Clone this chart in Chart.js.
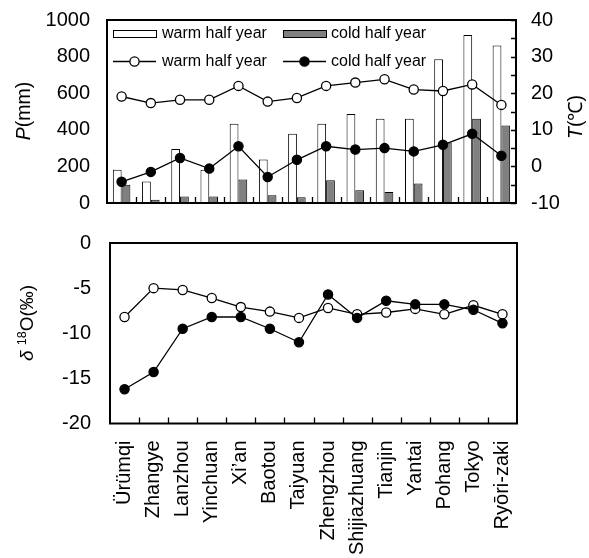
<!DOCTYPE html>
<html>
<head>
<meta charset="utf-8">
<script src="https://cdn.jsdelivr.net/npm/chart.js@4.4.1/dist/chart.umd.min.js"></script>
<style>
  html, body { margin: 0; padding: 0; background: #fff; }
  #wrap { position: relative; width: 589px; height: 558px; overflow: hidden; }
  #wrap canvas { position: absolute; left: 0; }
  #chart-top { top: 0; }
  #chart-bottom { top: 215px; }
</style>
</head>
<body>
<div id="wrap">
  <canvas id="chart-top" width="589" height="215"></canvas>
  <canvas id="chart-bottom" width="589" height="343"></canvas>
</div>
<script>
'use strict';

// ===== DATA =====
const stations = ['Ürümqi', 'Zhangye', 'Lanzhou', 'Yinchuan', 'Xi’an', 'Baotou', 'Taiyuan',
  'Zhengzhou', 'Shijiazhuang', 'Tianjin', 'Yantai', 'Pohang', 'Tokyo', 'Ryōri-zaki'];

// precipitation (mm)
const precipWarm = [182, 118, 295, 182, 433, 238, 378, 433, 487, 460, 460, 786, 918, 860];
const precipCold = [100, 18, 36, 36, 128, 43, 32, 125, 70, 60, 106, 330, 460, 423];

// temperature (°C)
const tempWarm = [19.1, 17.3, 18.2, 18.2, 22.0, 17.7, 18.7, 22.0, 22.9, 23.8, 21.0, 20.6, 22.4, 16.8];
const tempCold = [-4.2, -1.5, 2.3, -0.6, 5.5, -2.9, 1.8, 5.5, 4.6, 5.0, 4.1, 5.9, 8.9, 2.9];

// delta 18O (permil)
const d18Warm = [-8.2, -5.0, -5.2, -6.1, -7.1, -7.6, -8.3, -7.2, -7.9, -7.7, -7.3, -7.9, -6.9, -7.9];
const d18Cold = [-16.2, -14.3, -9.5, -8.2, -8.2, -9.5, -11.0, -5.7, -8.3, -6.4, -6.8, -6.8, -7.4, -8.9];

const pAxisTicks = [0, 1000, 200];   // min, max, step
const tAxisTicks = [-10, 40, 10];
const dAxisTicks = [-20, 0, 5];

const FONT = "'Liberation Sans', Arial, sans-serif";

// ===== HELPERS =====
function drawRotated(ctx, cx, cy, parts) {
  ctx.save();
  ctx.translate(cx, cy);
  ctx.rotate(-Math.PI / 2);
  ctx.textBaseline = 'middle';
  ctx.fillStyle = '#000';
  let w = 0;
  parts.forEach(p => { ctx.font = p.font; w += ctx.measureText(p.text).width; });
  let x = -w / 2;
  parts.forEach(p => {
    ctx.font = p.font;
    ctx.fillText(p.text, x, p.dy || 0);
    x += ctx.measureText(p.text).width;
  });
  ctx.restore();
}

// box round the plot + small inward ticks
function makeFrame(id, rightAxisId) {
  return {
    id: id,
    afterDraw(chart) {
      const ctx = chart.ctx;
      const a = chart.chartArea;
      const xs = chart.scales.x;
      ctx.save();
      ctx.strokeStyle = '#000';
      ctx.lineWidth = 1.3;
      ctx.beginPath();
      for (let i = 1; i < stations.length; i++) {
        const px = Math.round((xs.getPixelForValue(i - 1) + xs.getPixelForValue(i)) / 2) + 0.5;
        ctx.moveTo(px, a.bottom);
        ctx.lineTo(px, a.bottom - 6);
      }
      if (rightAxisId) {
        const s = chart.scales[rightAxisId];
        for (let v = s.min; v <= s.max; v += 5) {
          const py = Math.round(s.getPixelForValue(v)) + 0.5;
          ctx.moveTo(a.right, py);
          ctx.lineTo(a.right - 5, py);
        }
      }
      ctx.stroke();
      ctx.lineWidth = 2;
      ctx.strokeRect(a.left, a.top, a.right - a.left, a.bottom - a.top);
      ctx.restore();
    }
  };
}

// 2x2 legend in the top panel
const legendPlugin = {
  id: 'legendGrid',
  afterDraw(chart) {
    const ctx = chart.ctx;
    const ds = chart.data.datasets;
    const cols = [113, 283];
    const textX = [162, 331];
    ctx.save();
    ctx.font = `16px ${FONT}`;
    ctx.textBaseline = 'middle';
    // row 1: bars
    [ds[2], ds[3]].forEach((d, i) => {
      ctx.fillStyle = d.backgroundColor;
      ctx.fillRect(cols[i], 30.5, 43, 7);
      ctx.strokeStyle = '#000';
      ctx.lineWidth = 1;
      ctx.strokeRect(cols[i] + 0.5, 30.5, 43, 7);
      ctx.fillStyle = '#000';
      ctx.fillText(d.label, textX[i], 34);
    });
    // row 2: lines
    [ds[0], ds[1]].forEach((d, i) => {
      ctx.strokeStyle = '#000';
      ctx.lineWidth = 1.3;
      ctx.beginPath();
      ctx.moveTo(cols[i], 61.5);
      ctx.lineTo(cols[i] + 43, 61.5);
      ctx.stroke();
      ctx.beginPath();
      ctx.arc(cols[i] + 21.5, 61.5, 4.6, 0, Math.PI * 2);
      ctx.fillStyle = d.pointBackgroundColor;
      ctx.fill();
      ctx.stroke();
      ctx.fillStyle = '#000';
      ctx.fillText(d.label, textX[i], 61.5);
    });
    ctx.restore();
  }
};

const titlesTop = {
  id: 'titlesTop',
  afterDraw(chart) {
    const ctx = chart.ctx;
    drawRotated(ctx, 25, 111, [
      { text: 'P', font: `italic 19.5px ${FONT}` },
      { text: '(mm)', font: `19.5px ${FONT}` }
    ]);
    drawRotated(ctx, 577, 117, [
      { text: 'T', font: `italic 19.5px ${FONT}` },
      { text: '(℃)', font: `19.5px ${FONT}` }
    ]);
  }
};

const titlesBottom = {
  id: 'titlesBottom',
  afterDraw(chart) {
    const ctx = chart.ctx;
    drawRotated(ctx, 28, 108, [
      { text: 'δ', font: `italic 19px ${FONT}` },
      { text: ' ', font: `19px ${FONT}` },
      { text: '18', font: `12.5px ${FONT}`, dy: -5 },
      { text: 'O(‰)', font: `19px ${FONT}` }
    ]);
  }
};

const tickFont = { family: FONT, size: 20 };
const noGrid = { display: false, drawTicks: false };
// hidden tick marks: they only push the labels away from the axis
const gapGrid = len => ({ display: false, drawTicks: true, tickLength: len });
const plainNum = v => String(v);

// ===== TOP: precipitation + temperature =====
function initTopChart() {
  const lineStyle = {
    type: 'line', yAxisID: 'yT', borderColor: '#000', borderWidth: 1.3,
    pointRadius: 4.6, pointBorderColor: '#000', pointBorderWidth: 1.3, order: 0
  };
  const barStyle = {
    yAxisID: 'yP', borderColor: '#000', borderWidth: 1,
    categoryPercentage: 0.6, barPercentage: 1, order: 1
  };

  new Chart(document.getElementById('chart-top'), {
    type: 'bar',
    data: {
      labels: stations,
      datasets: [
        { ...lineStyle, label: 'warm half year', data: tempWarm, pointBackgroundColor: '#fff' },
        { ...lineStyle, label: 'cold half year', data: tempCold, pointBackgroundColor: '#000' },
        { ...barStyle, label: 'warm half year', data: precipWarm, backgroundColor: '#fff' },
        { ...barStyle, label: 'cold half year', data: precipCold, backgroundColor: '#808080' }
      ]
    },
    options: {
      responsive: false,
      animation: false,
      layout: { padding: { top: 20, bottom: 0, left: 0, right: 0 } },
      plugins: { legend: { display: false }, tooltip: { enabled: false } },
      scales: {
        x: { grid: noGrid, border: { display: false }, ticks: { display: false }, afterFit: s => { s.height = 12; } },
        yP: {
          position: 'left', min: pAxisTicks[0], max: pAxisTicks[1],
          grid: gapGrid(17), border: { display: false },
          ticks: { stepSize: pAxisTicks[2], padding: 0, color: '#000', font: tickFont, callback: plainNum },
          afterFit: s => { s.width = 107; }
        },
        yT: {
          position: 'right', min: tAxisTicks[0], max: tAxisTicks[1],
          grid: gapGrid(15), border: { display: false },
          ticks: { stepSize: tAxisTicks[2], padding: 0, color: '#000', font: tickFont, callback: plainNum },
          afterFit: s => { s.width = 73; }
        }
      }
    },
    plugins: [makeFrame('frameTop', 'yT'), legendPlugin, titlesTop]
  });
}

// ===== BOTTOM: delta 18O =====
function initBottomChart() {
  const lineStyle = {
    borderColor: '#000', borderWidth: 1.3, pointRadius: 4.6,
    pointBorderColor: '#000', pointBorderWidth: 1.3
  };

  new Chart(document.getElementById('chart-bottom'), {
    type: 'line',
    data: {
      labels: stations,
      datasets: [
        { ...lineStyle, label: 'cold half year', data: d18Cold, pointBackgroundColor: '#000' },
        { ...lineStyle, label: 'warm half year', data: d18Warm, pointBackgroundColor: '#fff' }
      ]
    },
    options: {
      responsive: false,
      animation: false,
      layout: { padding: { top: 28, right: 72, left: 0, bottom: 0 } },
      plugins: { legend: { display: false }, tooltip: { enabled: false } },
      scales: {
        x: {
          offset: true, grid: noGrid, border: { display: false },
          ticks: { autoSkip: false, minRotation: 90, maxRotation: 90, padding: 17, color: '#000', font: tickFont },
          afterFit: s => { s.height = 134.5; }
        },
        y: {
          min: dAxisTicks[0], max: dAxisTicks[1],
          grid: gapGrid(19), border: { display: false },
          ticks: { stepSize: dAxisTicks[2], padding: 0, color: '#000', font: tickFont, callback: plainNum },
          afterFit: s => { s.width = 110; }
        }
      }
    },
    plugins: [makeFrame('frameBottom', null), titlesBottom]
  });
}

initTopChart();
initBottomChart();
</script>
</body>
</html>
